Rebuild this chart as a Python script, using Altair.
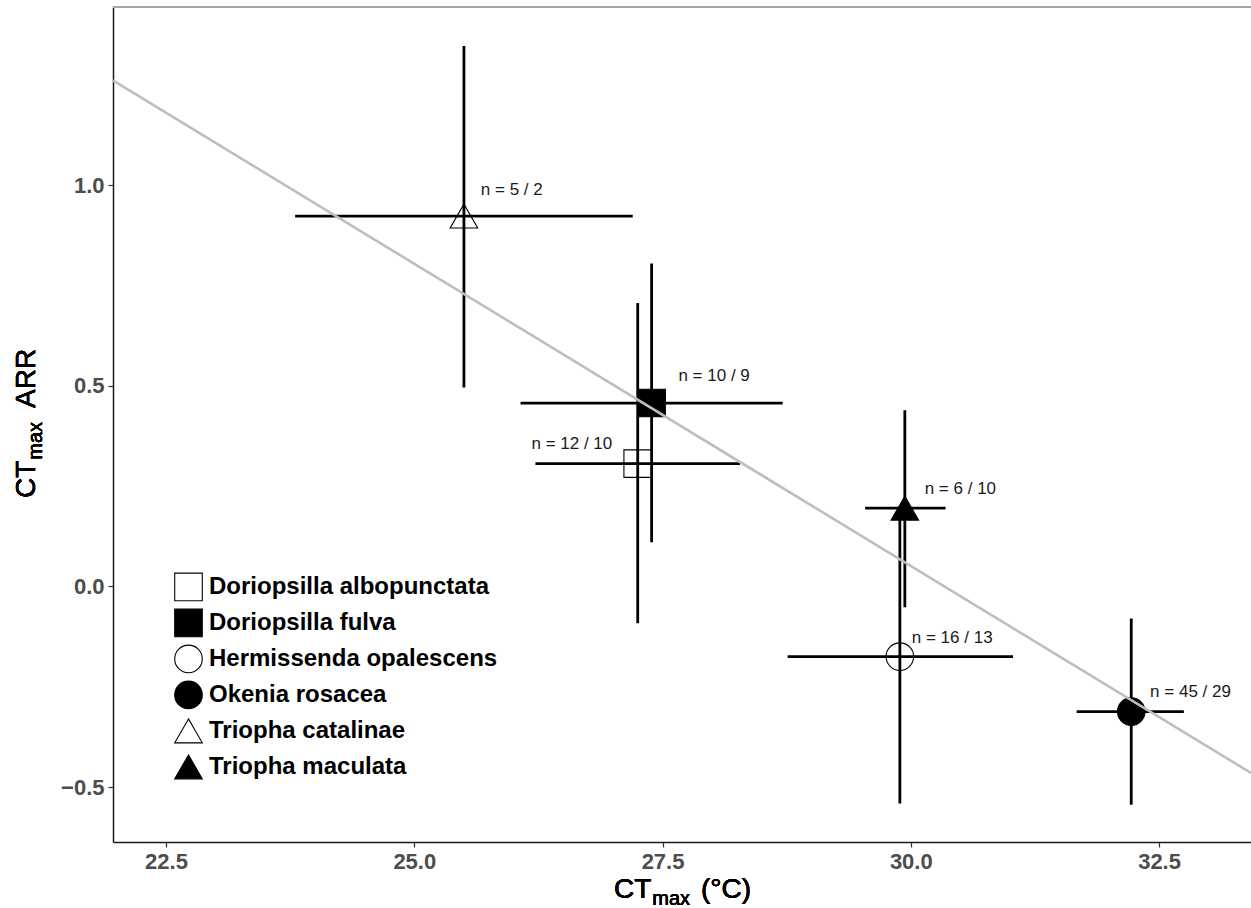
import altair as alt
import pandas as pd

# ---- data ----
species = ["Doriopsilla albopunctata", "Doriopsilla fulva", "Hermissenda opalescens",
           "Okenia rosacea", "Triopha catalinae", "Triopha maculata"]
ctmax = [27.25, 27.39, 29.89, 32.22, 25.50, 29.94]
ctmax_lo = [26.22, 26.07, 28.76, 31.67, 23.80, 29.54]
ctmax_hi = [28.28, 28.71, 31.03, 32.75, 27.20, 30.35]
arr = [0.306, 0.457, -0.175, -0.312, 0.923, 0.195]
arr_lo = [-0.092, 0.110, -0.541, -0.544, 0.496, -0.052]
arr_hi = [0.706, 0.805, 0.190, -0.080, 1.347, 0.439]
n_labels = ["n = 12 / 10", "n = 10 / 9", "n = 16 / 13", "n = 45 / 29", "n = 5 / 2", "n = 6 / 10"]
label_x = [26.18, 27.66, 30.01, 32.41, 25.67, 30.14]
label_y = [0.354, 0.524, -0.128, -0.262, 0.988, 0.242]
fit_intercept = 4.569
fit_slope = -0.1506
x_ticks = [22.5, 25.0, 27.5, 30.0, 32.5]
y_ticks = [-0.5, 0.0, 0.5, 1.0]
x_domain = [21.966, 33.426]
y_domain = [-0.637, 1.444]

shapes = ["square", "square", "circle", "circle", "triangle-up", "triangle-up"]
fills = ["transparent", "black", "transparent", "black", "transparent", "black"]
sizes = [760, 760, 841, 841, 1444, 1444]

df = pd.DataFrame({"species": species, "x": ctmax, "xlo": ctmax_lo, "xhi": ctmax_hi,
                   "y": arr, "ylo": arr_lo, "yhi": arr_hi, "label": n_labels,
                   "lx": label_x, "ly": label_y})
fit = pd.DataFrame({"x": x_domain})
fit["y"] = fit_intercept + fit_slope * fit["x"]

W, H = 1138, 835
LEFT, TOP = 113, 7
FONT = "Liberation Sans, Arial, Helvetica, sans-serif"

xs = alt.Scale(domain=x_domain, nice=False, zero=False)
ys = alt.Scale(domain=y_domain, nice=False, zero=False)

axis_common = dict(labelFont=FONT, labelFontWeight="bold", labelFontSize=22,
                   labelColor="#4D4D4D", tickColor="#333333", tickSize=5, tickWidth=1.2,
                   domainColor="#1a1a1a", domainWidth=1.5, grid=False, title=None)
xaxis = alt.Axis(values=x_ticks, format=".1f", labelPadding=4, **axis_common)
yaxis = alt.Axis(values=y_ticks, format=".1f", labelPadding=4, **axis_common)

base = alt.Chart(df)

vbars = base.mark_rule(color="black", strokeWidth=2.8).encode(
    x=alt.X("x:Q", scale=xs, axis=xaxis),
    y=alt.Y("ylo:Q", scale=ys, axis=yaxis),
    y2="yhi:Q")
hbars = base.mark_rule(color="black", strokeWidth=2.8).encode(
    x=alt.X("xlo:Q", scale=xs), x2="xhi:Q", y=alt.Y("y:Q", scale=ys))

points = base.mark_point(filled=True, opacity=1, stroke="black", strokeWidth=1.1).encode(
    x=alt.X("x:Q", scale=xs),
    y=alt.Y("y:Q", scale=ys),
    shape=alt.Shape("species:N", scale=alt.Scale(domain=species, range=shapes)),
    fill=alt.Fill("species:N", scale=alt.Scale(domain=species, range=fills),
                  legend=alt.Legend(orient="none", legendX=61, legendY=562, title=None,
                                    labelFont=FONT, labelFontWeight="bold", labelFontSize=24,
                                    labelColor="black", symbolStrokeColor="black",
                                    symbolStrokeWidth=1.1, clipHeight=35.8, rowPadding=0,
                                    labelOffset=6, padding=0, labelLimit=600)),
    size=alt.Size("species:N", scale=alt.Scale(domain=species, range=sizes)),
)

line = alt.Chart(fit).mark_line(color="#BEBEBE", strokeWidth=2.6, clip=True).encode(
    x=alt.X("x:Q", scale=xs), y=alt.Y("y:Q", scale=ys))

labels = base.mark_text(font=FONT, fontSize=17, color="#1a1a1a", align="left",
                        baseline="middle").encode(
    x=alt.X("lx:Q", scale=xs), y=alt.Y("ly:Q", scale=ys), text="label:N")

# panel top border and axis titles (layout elements)
top_border = alt.Chart(df).mark_rule(color="#A6A6A6", strokeWidth=1.5).encode(
    x=alt.value(0), x2=alt.value(W), y=alt.value(0))

def t(txt, x, y, size, angle=0):
    return alt.Chart(df).mark_text(text=txt, font=FONT, fontSize=size, color="black",
                                   align="left", baseline="alphabetic", angle=angle).encode(
        x=alt.value(x), y=alt.value(y))

xt = [t("CT", 501, 891, 28), t("max", 539.3, 898, 20), t("(°C)", 588, 891, 28)]
yt = [t("CT", -78, 491, 28, 270), t("max", -71, 452.7, 20, 270), t("ARR", -78, 400.9, 28, 270)]

chart = alt.layer(vbars, hbars, points, line, labels, top_border, *xt, *yt).properties(
    width=W, height=H,
    autosize=alt.AutoSizeParams(type="none"),
    padding={"left": LEFT, "top": TOP, "right": 0, "bottom": 908 - TOP - H},
).configure_view(stroke=None).configure(background="white")

chart.save("out.html", embed_options={"renderer": "svg", "actions": False})
